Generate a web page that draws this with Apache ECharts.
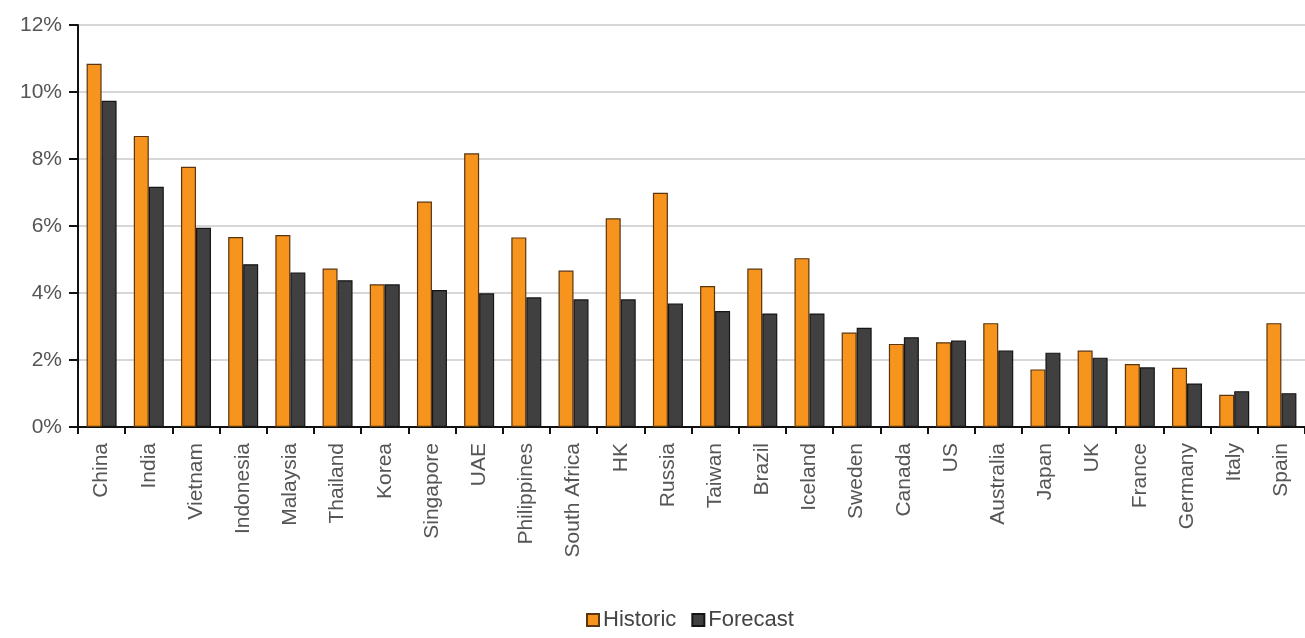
<!DOCTYPE html>
<html>
<head>
<meta charset="utf-8">
<script src="https://cdn.jsdelivr.net/npm/echarts@6/dist/echarts.min.js"></script>
<style>
  html, body { margin: 0; padding: 0; background: #fff; }
  #chart { width: 1305px; height: 638px; }
</style>
</head>
<body>
<div id="chart"></div>
<script>
const countries = ['China', 'India', 'Vietnam', 'Indonesia', 'Malaysia', 'Thailand', 'Korea', 'Singapore', 'UAE',
  'Philippines', 'South Africa', 'HK', 'Russia', 'Taiwan', 'Brazil', 'Iceland', 'Sweden', 'Canada', 'US',
  'Australia', 'Japan', 'UK', 'France', 'Germany', 'Italy', 'Spain']
const historic = [10.84, 8.69, 7.77, 5.67, 5.73, 4.73, 4.26, 6.73, 8.17, 5.66, 4.67, 6.23, 6.99, 4.21, 4.73, 5.04,
  2.82, 2.48, 2.53, 3.10, 1.72, 2.28, 1.88, 1.77, 0.96, 3.10]
const forecast = [9.74, 7.17, 5.95, 4.86, 4.61, 4.38, 4.26, 4.09, 3.99, 3.87, 3.81, 3.81, 3.69, 3.46, 3.39, 3.39,
  2.96, 2.68, 2.58, 2.28, 2.22, 2.07, 1.78, 1.30, 1.07, 1.01]

const font = 'Liberation Sans'
const chart = echarts.init(document.getElementById('chart'))

chart.setOption({
  animation: false,
  textStyle: { fontFamily: font },
  grid: { left: 78, top: 25, right: -5, bottom: 211 },
  legend: {
    top: 604,
    left: 581,
    icon: 'rect',
    itemWidth: 12,
    itemHeight: 12,
    itemGap: 15,
    textStyle: { fontSize: 22, color: '#444', fontFamily: font, padding: [0, 0, 0, -1] },
    data: ['Historic', 'Forecast'],
  },
  xAxis: {
    type: 'category',
    data: countries,
    axisLine: { lineStyle: { color: '#111', width: 2 } },
    axisTick: { show: true, length: 7, lineStyle: { color: '#111', width: 2 } },
    axisLabel: { rotate: 90, fontSize: 21, color: '#555', margin: 16, interval: 0, fontFamily: font },
  },
  yAxis: {
    type: 'value',
    min: 0,
    max: 12,
    interval: 2,
    axisLine: { show: true, lineStyle: { color: '#111', width: 2 } },
    axisTick: { show: true, length: 9, lineStyle: { color: '#111', width: 2 } },
    axisLabel: { formatter: '{value}%', fontSize: 21, color: '#555', margin: 16, fontFamily: font },
    splitLine: { lineStyle: { color: '#cacaca', width: 1.5 } },
  },
  series: [
    {
      name: 'Historic',
      type: 'bar',
      data: historic,
      barWidth: 15,
      barGap: '0%',
      itemStyle: { color: '#f7941e', borderColor: '#5a3510', borderWidth: 1.2 },
    },
    {
      name: 'Forecast',
      type: 'bar',
      data: forecast,
      barWidth: 15,
      itemStyle: { color: '#404040', borderColor: '#151515', borderWidth: 1.2 },
    },
  ],
})
</script>
</body>
</html>
